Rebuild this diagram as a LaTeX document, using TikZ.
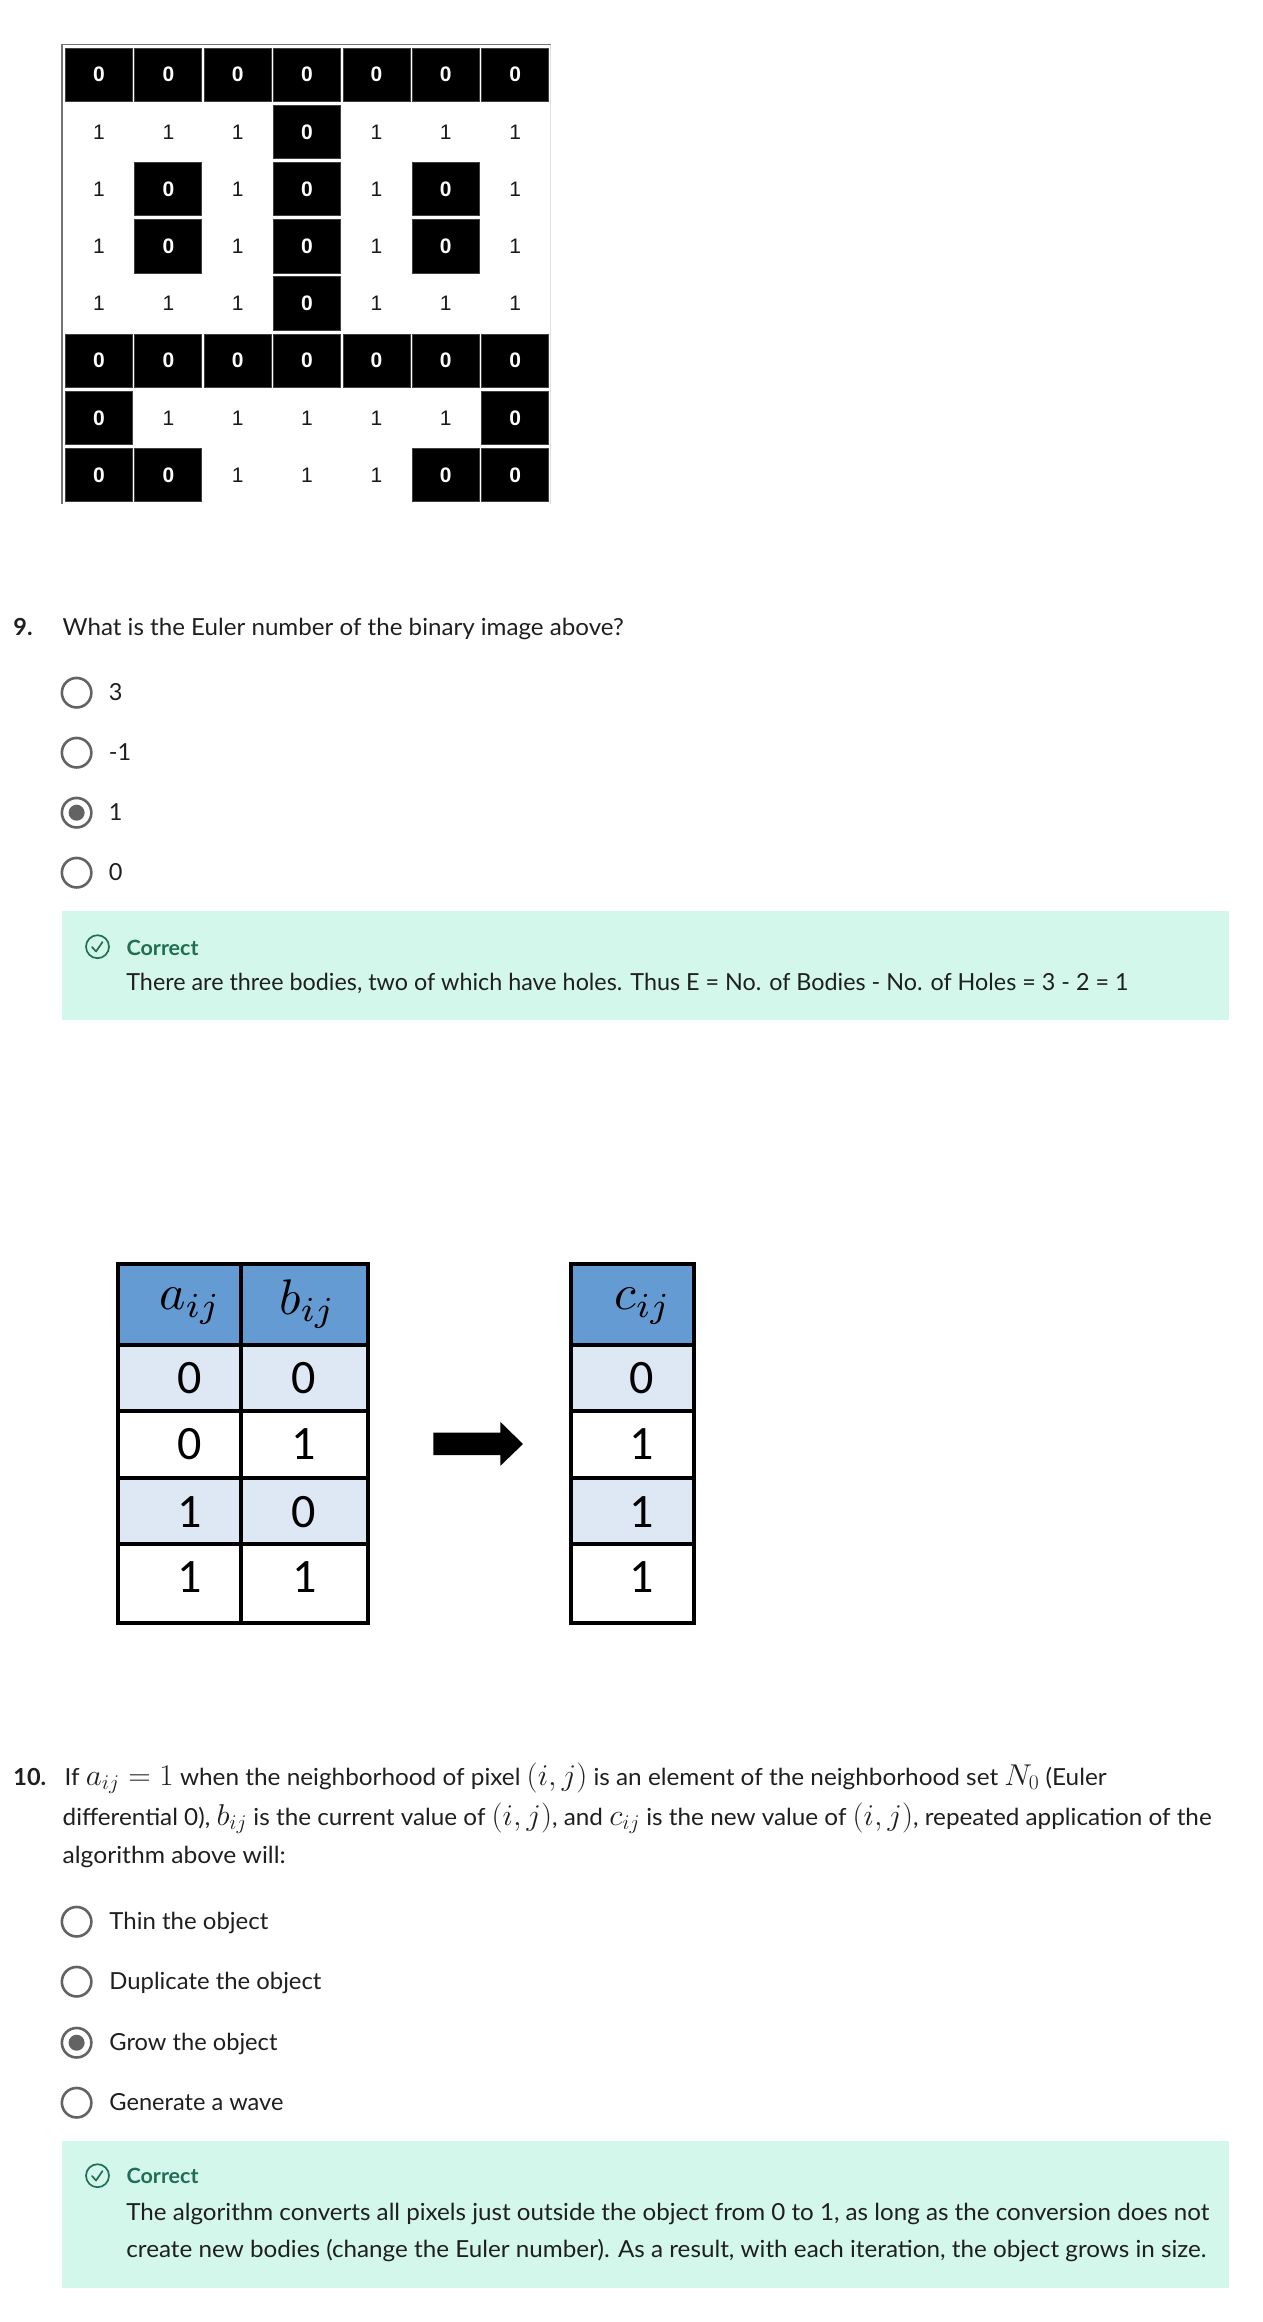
\documentclass[tikz,border=0pt]{standalone}
\usepackage[no-math]{fontspec}
\usepackage{graphicx}
\setmainfont{Lato}
\newfontfamily\gridfont{Liberation Sans}
\newfontfamily\tabfont{Carlito}
\definecolor{ink}{HTML}{1F1F1F}
\definecolor{ringgray}{HTML}{636363}
\definecolor{okbg}{HTML}{D4F7EB}
\definecolor{okgreen}{HTML}{1F6F50}
\definecolor{headblue}{HTML}{659BD3}
\definecolor{rowblue}{HTML}{DEE8F4}
\newcommand{\bodyf}{\fontsize{23.5}{28}\selectfont}
\newcommand{\fit}[2]{\resizebox{#1pt}{\height}{\bodyf #2}}
\newcommand{\mth}[1]{\scalebox{1.21}{$#1$}}
\newcommand{\hdm}[1]{\scalebox{5}{$#1$}}
\tikzset{
  x=0.995pt,y=-1pt,
  txt/.style={anchor=base west,inner sep=0pt,outer sep=0pt,text=ink},
  ring/.style={circle,draw=ringgray,line width=2.6pt,fill=white,minimum size=29.5pt,inner sep=0pt},
  dot/.style={circle,fill=ringgray,minimum size=16pt,inner sep=0pt},
  okicon/.style={circle,draw=okgreen,line width=1.7pt,minimum size=23pt,inner sep=0pt},
  okmark/.style={draw=okgreen,line width=1.7pt,line cap=round,line join=round},
  okhead/.style={anchor=base west,inner sep=0pt,text=okgreen},
  zerocell/.style={rectangle,fill=black,draw=black!75,line width=0.8pt,minimum width=67pt,minimum height=53.5pt,inner sep=0pt,text=white,font=\gridfont\bfseries\fontsize{21}{21}\selectfont},
  onecell/.style={rectangle,minimum width=67pt,minimum height=53.5pt,inner sep=0pt,text=black!90,font=\gridfont\fontsize{21}{21}\selectfont},
  tnum/.style={inner sep=0pt,text=black,font=\tabfont\fontsize{48}{48}\selectfont},
  thead/.style={inner sep=0pt,text=black},
}
\begin{document}
\begin{tikzpicture}
\useasboundingbox (0pt,0pt) rectangle (1262pt,-2322pt);
\fill[white] (0pt,0pt) rectangle (1262pt,-2322pt);
% binary image
\draw[black!55,line width=1.6pt] (62.5,504) -- (62.5,44.5) -- (553.5,44.5);
\draw[black!12,line width=1.2pt] (553.5,44.5) -- (553.5,504);
\foreach \rr/\row in {1/{0,0,0,0,0,0,0},2/{1,1,1,0,1,1,1},3/{1,0,1,0,1,0,1},4/{1,0,1,0,1,0,1},5/{1,1,1,0,1,1,1},6/{0,0,0,0,0,0,0},7/{0,1,1,1,1,1,0},8/{0,0,1,1,1,0,0}}{
  \foreach \vv [count=\cc] in \row {
    \pgfmathsetmacro{\cx}{99.5+(\cc-1)*69.7}
    \pgfmathsetmacro{\cy}{74.7+(\rr-1)*57.2}
    \ifnum\vv=0
      \node[zerocell] (g\rr-\cc) at (\cx,\cy) {0};
    \else
      \node[onecell] (g\rr-\cc) at (\cx,\cy) {1};
    \fi
  }
}
% question 9
\node[txt,font=\bodyf\bfseries] (n9) at (13.5,635) {9.};
\node[txt] (q9) at (63,635) {\fit{561}{What is the Euler number of the binary image above?}};
\foreach \n/\yy/\tx in {a/692.7/3,b/752.7/-1,c/812.7/1,d/872.7/0}{
  \node[ring] (r\n) at (77,\yy) {};
  \node[txt,font=\bodyf] (o\n) at (109.5,\yy+8) {\tx};
}
\node[dot] (rdot) at (rc) {};
\fill[okbg] (62.3,911) rectangle (1235.4,1020);
\node[okicon] (ic9) at (98,946.7) {};
\draw[okmark] (92.5,947) -- (96.5,951.5) -- (103,942);
\node[okhead] (c9) at (127,955) {\fit{72}{\fontsize{21}{24}\selectfont\bfseries Correct}};
\node[txt] (e9) at (127,990) {\fit{1002}{There are three bodies, two of which have holes. Thus E = No. of Bodies - No. of Holes = 3 - 2 = 1}};
% truth table
\foreach \xa/\xb/\cn in {118.6/242.5/a,242.5/369.4/b,573.4/697/c}{
  \foreach \ya/\yb/\fc/\rn in {1264.3/1344.7/headblue/0,1344.7/1411.3/rowblue/1,1411.3/1478.3/white/2,1478.3/1544/rowblue/3,1544/1622.7/white/4}{
    \path[fill=\fc,draw=black,line width=4pt] (\xa,\ya) rectangle (\xb,\yb);
  }
}
\node[thead] (ha) at (191,1306) {\hdm{a_{ij}}};
\node[thead] (hb) at (309,1304) {\hdm{b_{ij}}};
\node[thead] (hc) at (646,1306) {\hdm{c_{ij}}};
\foreach \nm/\xx/\yy/\tx in {a1/190.5/1378/0,a2/190.5/1444/0,a3/190.5/1512/1,a4/190.5/1577/1,b1/305/1378/0,b2/305/1444/1,b3/305/1512/0,b4/306.5/1577/1,c1/645/1378/0,c2/645/1444/1,c3/645/1512/1,c4/645/1577/1}{
  \node[tnum] (t\nm) at (\xx,\yy) {\tx};
}
\fill[black] (435.5,1432.7) -- (503,1432.7) -- (503,1422) -- (525.6,1444) -- (503,1465.7) -- (503,1455) -- (435.5,1455) -- cycle;
% question 10
\node[txt,font=\bodyf\bfseries] (n10) at (13.5,1785) {10.};
\node[txt] (l1) at (65,1785) {\fit{1042}{If \mth{a_{ij}=1} when the neighborhood of pixel \mth{(i,j)} is an element of the neighborhood set \mth{N_0} (Euler}};
\node[txt] (l2) at (63,1825) {\fit{1149}{differential 0), \mth{b_{ij}} is the current value of \mth{(i,j)}, and \mth{c_{ij}} is the new value of \mth{(i,j)}, repeated application of the}};
\node[txt] (l3) at (63,1863) {\fit{223}{algorithm above will:}};
\foreach \n/\yy/\tw/\tx in {e/1921.7/159/Thin the object,f/1981.7/212/Duplicate the object,g/2042.7/168/Grow the object,h/2102.7/174/Generate a wave}{
  \node[ring] (r\n) at (77,\yy) {};
  \node[txt] (o\n) at (110,\yy+8) {\fit{\tw}{\tx}};
}
\node[dot] (rdot2) at (rg) {};
\fill[okbg] (62.3,2141) rectangle (1235.4,2287.7);
\node[okicon] (ic10) at (98,2175.7) {};
\draw[okmark] (92.5,2176) -- (96.5,2180.5) -- (103,2171);
\node[okhead] (c10) at (127,2183) {\fit{72}{\fontsize{21}{24}\selectfont\bfseries Correct}};
\node[txt] (e10a) at (127,2220) {\fit{1083}{The algorithm converts all pixels just outside the object from 0 to 1, as long as the conversion does not}};
\node[txt] (e10b) at (127,2257) {\fit{1080}{create new bodies (change the Euler number). As a result, with each iteration, the object grows in size.}};
\end{tikzpicture}
\end{document}
